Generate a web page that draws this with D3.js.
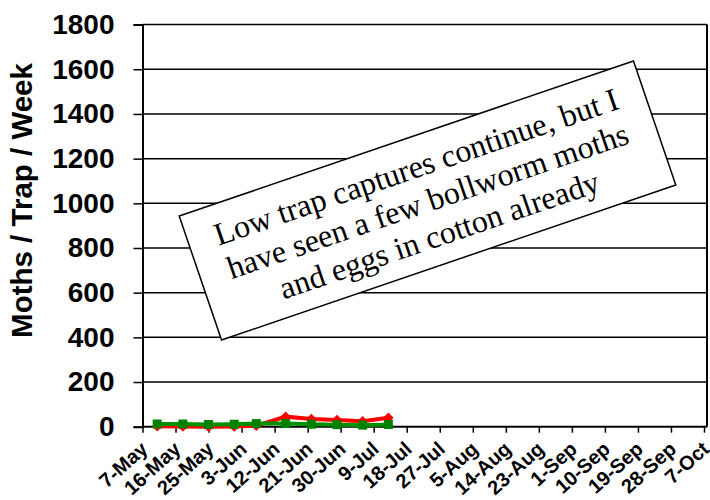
<!DOCTYPE html>
<html lang="en">

<head>
  <meta charset="UTF-8">
  <title>Moths / Trap / Week</title>
  <style>
    body { margin: 0; background: #fff; }
    svg { display: block; }
  </style>
</head>

<body>

  <script src="https://cdn.jsdelivr.net/npm/d3@7/dist/d3.min.js"></script>
  <script>
    // trap dates and weekly counts
    var trapDates = ["11-May", "18-May", "25-May", "1-Jun", "7-Jun", "15-Jun", "22-Jun", "29-Jun", "6-Jul", "13-Jul"];
    var redCounts = [2, 1, 0, 1, 4, 45, 34, 30, 24, 40];
    var greenCounts = [12, 12, 10, 11, 14, 14, 11, 9, 7, 10];

    // axis labels
    var xTickLabels = ["7-May", "16-May", "25-May", "3-Jun", "12-Jun", "21-Jun", "30-Jun", "9-Jul", "18-Jul",
      "27-Jul", "5-Aug", "14-Aug", "23-Aug", "1-Sep", "10-Sep", "19-Sep", "28-Sep", "7-Oct"];
    var yTicks = [0, 200, 400, 600, 800, 1000, 1200, 1400, 1600, 1800];
    var yTitle = "Moths / Trap / Week";
    var noteLines = ["Low trap captures continue, but I", "have seen a few bollworm moths", "and eggs in cotton already"];

    var width = 710;
    var height = 500;
    // plot box (window.top is read-only, so no "top" here)
    var plotLeft = 142.5, lastTick = 704, plotRight = 707, plotTop = 24.6, plotBottom = 426.7;

    var parse = function (s) { return d3.timeParse("%d-%b-%Y")(s + "-2011"); };

    var svg = d3.select("body")
      .append("svg")
      .attr("width", width)
      .attr("height", height);

    var x = d3.scaleTime()
      .domain([parse(xTickLabels[0]), parse(xTickLabels[xTickLabels.length - 1])])
      .range([plotLeft, lastTick]);

    var y = d3.scaleLinear()
      .domain([0, 1800])
      .range([plotBottom, plotTop]);

    // gridlines
    svg.append("g")
      .selectAll("line")
      .data(yTicks.slice(1))
      .enter()
      .append("line")
      .attr("x1", plotLeft)
      .attr("x2", plotRight)
      .attr("y1", function (d) { return y(d); })
      .attr("y2", function (d) { return y(d); })
      .attr("stroke", "#000")
      .attr("stroke-width", 1.5);

    // right border
    svg.append("line")
      .attr("x1", plotRight).attr("x2", plotRight)
      .attr("y1", plotTop).attr("y2", plotBottom)
      .attr("stroke", "#000").attr("stroke-width", 2);

    // y axis
    var yAxis = d3.axisLeft(y)
      .tickValues(yTicks)
      .tickSize(9)
      .tickPadding(19)
      .tickFormat(d3.format("d"));

    var gy = svg.append("g")
      .attr("transform", "translate(" + plotLeft + ",0)")
      .call(yAxis);
    gy.select(".domain").attr("stroke-width", 2);
    gy.selectAll(".tick line").attr("stroke-width", 1.5);
    gy.selectAll("text")
      .attr("font-family", "Liberation Sans, Arial, sans-serif")
      .attr("font-weight", "bold")
      .attr("font-size", 28)
      .attr("fill", "#000");

    // x axis, labels slanted and ending at the tick
    var xAxis = d3.axisBottom(x)
      .tickValues(xTickLabels.map(parse))
      .tickSize(6)
      .tickFormat(function (d, i) { return xTickLabels[i]; });

    var gx = svg.append("g")
      .attr("transform", "translate(0," + plotBottom + ")")
      .call(xAxis);
    gx.select(".domain").attr("d", "M" + plotLeft + ",0H" + plotRight).attr("stroke-width", 2);
    gx.selectAll(".tick line").attr("stroke-width", 1.5);
    gx.selectAll("text")
      .attr("font-family", "Liberation Sans, Arial, sans-serif")
      .attr("font-weight", "bold")
      .attr("font-size", 20)
      .attr("fill", "#000")
      .attr("text-anchor", "end")
      .attr("x", 0)
      .attr("y", 0)
      .attr("dy", 0)
      .attr("transform", "translate(6,24) rotate(-42)");

    // y axis title
    svg.append("text")
      .attr("transform", "translate(32,200.5) rotate(-90)")
      .attr("text-anchor", "middle")
      .attr("font-family", "Liberation Sans, Arial, sans-serif")
      .attr("font-weight", "bold")
      .attr("font-size", 29.5)
      .text(yTitle);

    // series
    var dates = trapDates.map(parse);
    var line = d3.line()
      .x(function (d, i) { return x(dates[i]); })
      .y(function (d) { return y(d); });

    svg.append("path")
      .datum(redCounts)
      .attr("d", line)
      .attr("fill", "none")
      .attr("stroke", "#ff0000")
      .attr("stroke-width", 4);

    svg.append("g")
      .selectAll("path")
      .data(redCounts)
      .enter()
      .append("path")
      .attr("d", d3.symbol().type(d3.symbolDiamond2).size(70))
      .attr("transform", function (d, i) { return "translate(" + x(dates[i]) + "," + y(d) + ")"; })
      .attr("fill", "#ff0000");

    svg.append("path")
      .datum(greenCounts)
      .attr("d", line)
      .attr("fill", "none")
      .attr("stroke", "#009000")
      .attr("stroke-width", 4);

    svg.append("g")
      .selectAll("rect")
      .data(greenCounts)
      .enter()
      .append("rect")
      .attr("x", function (d, i) { return x(dates[i]) - 4.5; })
      .attr("y", function (d) { return y(d) - 4.5; })
      .attr("width", 9)
      .attr("height", 9)
      .attr("fill", "#008000");

    // note box
    var note = svg.append("g")
      .attr("transform", "translate(427.5,200.5) rotate(-18.85)");
    note.append("rect")
      .attr("x", -240)
      .attr("y", -65.5)
      .attr("width", 480)
      .attr("height", 131)
      .attr("fill", "#fff")
      .attr("stroke", "#000")
      .attr("stroke-width", 1.5);
    note.selectAll("text")
      .data(noteLines)
      .enter()
      .append("text")
      .attr("x", 0)
      .attr("y", function (d, i) { return (i - 1) * 36; })
      .attr("dy", "0.35em")
      .attr("text-anchor", "middle")
      .attr("font-family", "Liberation Serif, Times New Roman, serif")
      .attr("font-size", 32)
      .text(function (d) { return d; });
  </script>
</body>

</html>
